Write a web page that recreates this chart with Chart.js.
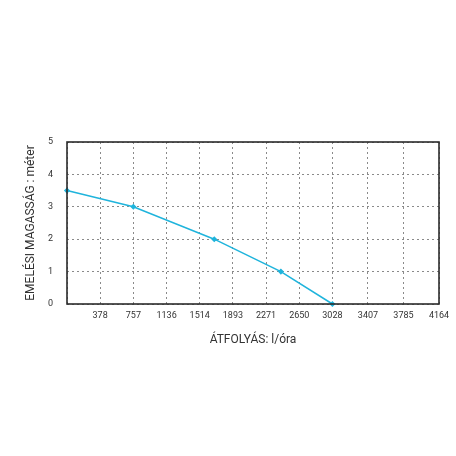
<!DOCTYPE html>
<html>
<head>
<meta charset="utf-8">
<script src="https://cdn.jsdelivr.net/npm/chart.js@4.4.1/dist/chart.umd.min.js"></script>
<style>
html,body{margin:0;padding:0;background:#fff;}
#wrap{width:456px;height:456px;position:relative;}
</style>
</head>
<body>
<div id="wrap"><canvas id="c"></canvas></div>
<script>
// ---- data ----
const flowValues = [0, 757, 1680, 2440, 3028];        // l/óra
const headValues = [3.5, 3, 2, 1, 0];                 // méter
const xTickValues = [0, 378, 757, 1136, 1514, 1893, 2271, 2650, 3028, 3407, 3785, 4164];
const xTickLabels = ['', '378', '757', '1136', '1514', '1893', '2271', '2650', '3028', '3407', '3785', '4164'];
const yTickValues = [0, 1, 2, 3, 4, 5];
const xTitle = 'ÁTFOLYÁS: l/óra';
const yTitle = 'EMELÉSI MAGASSÁG : méter';

// the reference axis is slightly non-uniform: intervals past 3028 are wider
const BREAK_VALUE = 3028;
const BREAK_FRAC = 0.7135;

class PiecewiseScale extends Chart.LinearScale {
  _frac(v) {
    const max = this.max;
    if (v <= BREAK_VALUE) return v / BREAK_VALUE * BREAK_FRAC;
    return BREAK_FRAC + (v - BREAK_VALUE) / (max - BREAK_VALUE) * (1 - BREAK_FRAC);
  }
  getPixelForValue(value) {
    if (value === null || value === undefined || isNaN(value)) return NaN;
    return this.getPixelForDecimal(this._frac(value));
  }
  getValueForPixel(pixel) {
    const d = this.getDecimalForPixel(pixel);
    if (d <= BREAK_FRAC) return d / BREAK_FRAC * BREAK_VALUE;
    return BREAK_VALUE + (d - BREAK_FRAC) / (1 - BREAK_FRAC) * (this.max - BREAK_VALUE);
  }
}
PiecewiseScale.id = 'piecewise';
PiecewiseScale.defaults = Chart.LinearScale.defaults;
Chart.register(PiecewiseScale);

const frame = {
  id: 'frame',
  afterDatasetsDraw(chart) {
    const a = chart.chartArea, ctx = chart.ctx;
    ctx.save();
    ctx.strokeStyle = '#2b2b2b';
    ctx.lineWidth = 1.6;
    ctx.strokeRect(a.left, a.top, a.right - a.left, a.bottom - a.top);
    ctx.restore();
  }
};

const FONT = 'Roboto, "Noto Sans", sans-serif';

new Chart(document.getElementById('c'), {
  type: 'line',
  data: {
    datasets: [{
      data: flowValues.map((x, i) => ({x, y: headValues[i]})),
      borderColor: '#1fb4dc',
      backgroundColor: '#1fb4dc',
      borderWidth: 1.5,
      pointRadius: 2,
      pointHoverRadius: 2,
      pointStyle: 'rectRot',
      tension: 0,
      fill: false,
      clip: false
    }]
  },
  options: {
    responsive: true,
    maintainAspectRatio: false,
    animation: false,
    layout: {padding: {top: 142, right: 17, bottom: 107, left: 0}},
    plugins: {legend: {display: false}, tooltip: {enabled: false}},
    scales: {
      x: {
        type: 'piecewise',
        min: 0,
        max: 4164,
        afterBuildTicks(s) { s.ticks = xTickValues.map(v => ({value: v})); },
        afterFit(s) { s.height = 45; },
        ticks: {
          autoSkip: false,
          maxRotation: 0,
          padding: 6,
          color: '#333',
          font: {family: FONT, size: 9},
          callback: (v, i) => xTickLabels[i]
        },
        grid: {color: '#8a8a8a', lineWidth: 1, drawTicks: false},
        border: {display: false, dash: [2, 3]},
        title: {display: true, text: xTitle, color: '#333', font: {family: FONT, size: 12}, padding: {top: 0, bottom: 2}}
      },
      y: {
        min: 0,
        max: 5,
        afterBuildTicks(s) { s.ticks = yTickValues.map(v => ({value: v})); },
        afterFit(s) { s.width = 67; },
        ticks: {padding: 14, color: '#333', font: {family: FONT, size: 9}},
        grid: {color: '#8a8a8a', lineWidth: 1, drawTicks: false},
        border: {display: false, dash: [2, 3]},
        title: {display: true, text: yTitle, color: '#333', font: {family: FONT, size: 12}, padding: {top: 24, bottom: 0}}
      }
    }
  },
  plugins: [frame]
});
</script>
</body>
</html>
